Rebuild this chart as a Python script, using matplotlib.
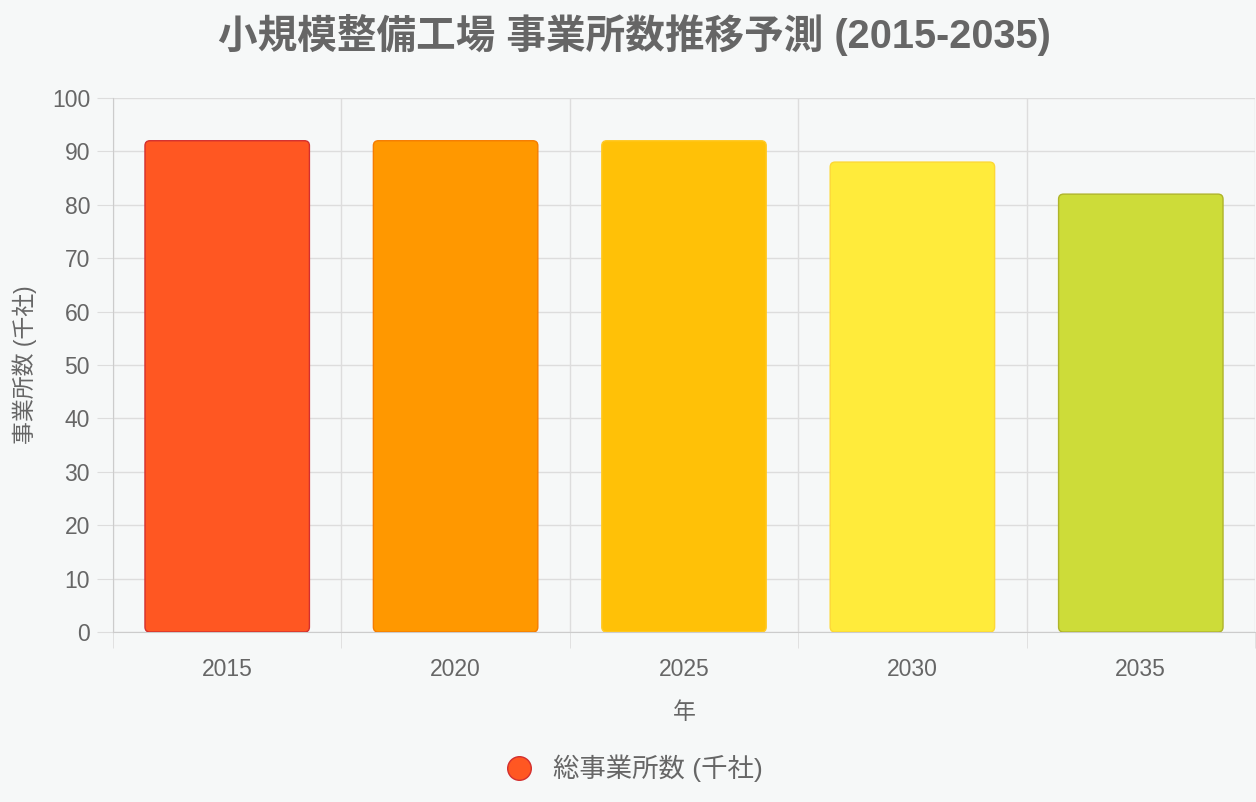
import matplotlib
matplotlib.use("Agg")
import matplotlib.pyplot as plt
from matplotlib.patches import FancyBboxPatch
from matplotlib.lines import Line2D

plt.rcParams["font.family"] = ["Liberation Sans", "Noto Sans CJK JP", "DejaVu Sans"]

years = ["2015", "2020", "2025", "2030", "2035"]
counts = [92, 92, 92, 88, 82]
fill_colors = ["#FF5722", "#FF9800", "#FFC107", "#FFEB3B", "#CDDC39"]
edge_colors = ["#D32F2F", "#F57C00", "#FFCA28", "#FDD835", "#AFB42B"]

bg = "#F6F8F8"
text_col = "#666666"
grid_col = "#DDDDDD"

fig = plt.figure(figsize=(12.56, 8.02), dpi=100, facecolor=bg)
ax = fig.add_axes([113 / 1256, 1 - 632 / 802, (1255 - 113) / 1256, (632 - 98) / 802])
ax.set_facecolor(bg)

x = list(range(len(years)))
bars = ax.bar(x, counts, width=0.72)

# swap plain bars for rounded ones
px_x = (1255 - 113) / len(years)
px_y = (632 - 98) / 100
r_px = 5
for b, fc, ec in zip(bars, fill_colors, edge_colors):
    b.set_visible(False)
    patch = FancyBboxPatch(
        (b.get_x(), b.get_y()), b.get_width(), b.get_height(),
        boxstyle="round,pad=0,rounding_size=%f" % (r_px / px_x),
        mutation_aspect=px_x / px_y,
        facecolor=fc, edgecolor=ec, linewidth=1, zorder=3,
    )
    ax.add_patch(patch)

ax.set_xlim(-0.5, len(years) - 0.5)
ax.set_ylim(0, 100)
ax.set_yticks(range(0, 101, 10))
ax.set_xticks(x)
ax.set_xticklabels(years)
ax.set_xticks([i - 0.5 for i in range(len(years) + 1)], minor=True)

ax.grid(axis="y", color=grid_col, linewidth=1, zorder=0)
ax.grid(axis="x", which="minor", color=grid_col, linewidth=1, zorder=0)
ax.tick_params(axis="x", which="major", length=0, pad=19, labelsize=16.5, labelcolor=text_col)
ax.tick_params(axis="x", which="minor", length=11.5, color=grid_col)
ax.tick_params(axis="y", length=11.5, color=grid_col, pad=5, labelsize=16.5, labelcolor=text_col)

for s in ["top", "right"]:
    ax.spines[s].set_visible(False)
for s in ["left", "bottom"]:
    ax.spines[s].set_color("#CCCCCC")

ax.set_xlabel("年", fontsize=16.5, color=text_col, labelpad=14)
ax.set_ylabel("事業所数 (千社)", fontsize=16.5, color=text_col, labelpad=11)

fig.text(0.505, 1 - 35 / 802, "小規模整備工場 事業所数推移予測 (2015-2035)",
         ha="center", va="center", fontsize=28.5, fontweight="bold", color=text_col)

handle = Line2D([], [], marker="o", linestyle="none", markersize=17,
                markerfacecolor=fill_colors[0], markeredgecolor=edge_colors[0])
fig.legend([handle], ["総事業所数 (千社)"], loc="center", bbox_to_anchor=(0.5, 1 - 768 / 802),
           frameon=False, fontsize=19, labelcolor=text_col, handletextpad=0.3)

fig.savefig("out.png", dpi=100, facecolor=bg)
